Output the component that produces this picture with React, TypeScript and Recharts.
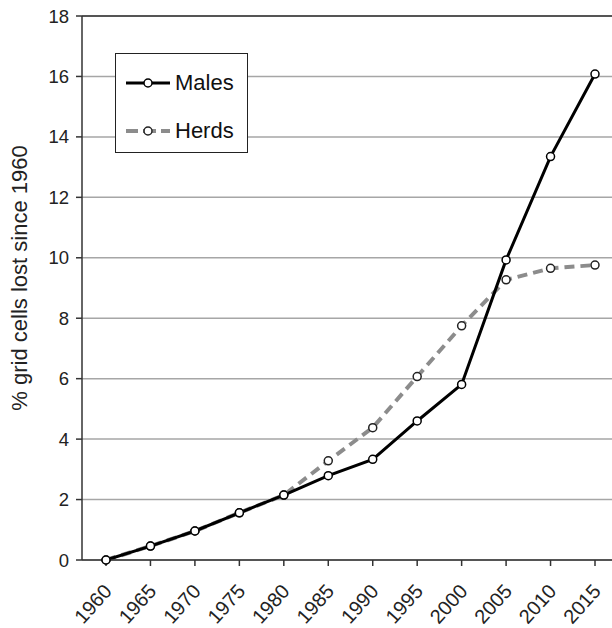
import { LineChart, Line, XAxis, YAxis, CartesianGrid, ReferenceLine } from "recharts";

const years = ["1960", "1965", "1970", "1975", "1980", "1985", "1990", "1995", "2000", "2005", "2010", "2015"];
const males = [0, 0.46, 0.96, 1.56, 2.15, 2.79, 3.33, 4.6, 5.81, 9.93, 13.35, 16.08];
const herds = [0, 0.46, 0.96, 1.56, 2.15, 3.28, 4.38, 6.07, 7.75, 9.27, 9.65, 9.76];
const yTicks = [0, 2, 4, 6, 8, 10, 12, 14, 16, 18];

const data = years.map((year, i) => ({ year, males: males[i], herds: herds[i] }));

const FONT = "'Liberation Sans', Arial, sans-serif";

function YearTick(props: any) {
  const { x, y, payload } = props;
  const px = x + 7;
  const py = y + 24;
  return (
    <text
      x={px}
      y={py}
      transform={`rotate(-48 ${px} ${py})`}
      textAnchor="end"
      fontSize={20}
      fontFamily={FONT}
      fill="#222"
    >
      {payload.value}
    </text>
  );
}

// legend drawn as an overlay so it doesn't eat plot space
function LegendBox() {
  const row = (top: number): React.CSSProperties => ({
    position: "absolute",
    left: 0,
    top,
    width: "100%",
    height: 24,
  });
  return (
    <div
      style={{
        position: "absolute",
        left: 115,
        top: 53,
        width: 133,
        height: 100,
        border: "1.5px solid #222",
        background: "#fff",
        fontFamily: FONT,
        fontSize: 22,
        color: "#111",
        boxSizing: "border-box",
      }}
    >
      <div style={row(17)}>
        <svg width={46} height={24} style={{ position: "absolute", left: 10, top: 0 }}>
          <line x1={0} y1={12} x2={44} y2={12} stroke="#000" strokeWidth={3} />
          <circle cx={22} cy={12} r={4} fill="#fff" stroke="#000" strokeWidth={1.5} />
        </svg>
        <span style={{ position: "absolute", left: 59, top: 0, lineHeight: "24px" }}>Males</span>
      </div>
      <div style={row(65)}>
        <svg width={46} height={24} style={{ position: "absolute", left: 10, top: 0 }}>
          <line x1={0} y1={12} x2={44} y2={12} stroke="#8c8c8c" strokeWidth={4} strokeDasharray="12 5 4 5 4 5 10" />
          <circle cx={22} cy={12} r={4} fill="#fff" stroke="#222" strokeWidth={1.5} />
        </svg>
        <span style={{ position: "absolute", left: 59, top: 0, lineHeight: "24px" }}>Herds</span>
      </div>
    </div>
  );
}

export default function App() {
  return (
    <div style={{ position: "absolute", left: 0, top: 0, width: 612, height: 628, background: "#fff" }}>
      <LineChart width={612} height={628} data={data} margin={{ top: 16, right: 0, left: 0, bottom: 0 }}>
        <CartesianGrid vertical={false} stroke="#a6a6a6" strokeWidth={1.5} />
        <XAxis
          dataKey="year"
          height={68}
          padding={{ left: 24, right: 17 }}
          stroke="#333"
          strokeWidth={1.5}
          tickSize={6}
          tick={<YearTick />}
          interval={0}
        />
        <YAxis
          width={82}
          domain={[0, 18]}
          ticks={yTicks}
          stroke="#333"
          strokeWidth={1.5}
          tickSize={6}
          tickMargin={7}
          tick={{ fontSize: 18.5, fontFamily: FONT, fill: "#222" }}
          label={{
            content: () => (
              <text
                x={19}
                y={278}
                transform="rotate(-90 19 278)"
                textAnchor="middle"
                dominantBaseline="central"
                fontSize={22}
                fontFamily={FONT}
                fill="#222"
              >
                % grid cells lost since 1960
              </text>
            ),
          }}
        />
        <ReferenceLine y={18} stroke="#333" strokeWidth={1.5} />
        <Line
          dataKey="herds"
          stroke="#8c8c8c"
          strokeWidth={4}
          strokeDasharray="10 6"
          dot={{ r: 4, fill: "#fff", stroke: "#222", strokeWidth: 1.5, strokeDasharray: "" }}
          isAnimationActive={false}
        />
        <Line
          dataKey="males"
          stroke="#000"
          strokeWidth={3}
          dot={{ r: 4, fill: "#fff", stroke: "#000", strokeWidth: 1.5 }}
          isAnimationActive={false}
        />
      </LineChart>
      <LegendBox />
    </div>
  );
}
